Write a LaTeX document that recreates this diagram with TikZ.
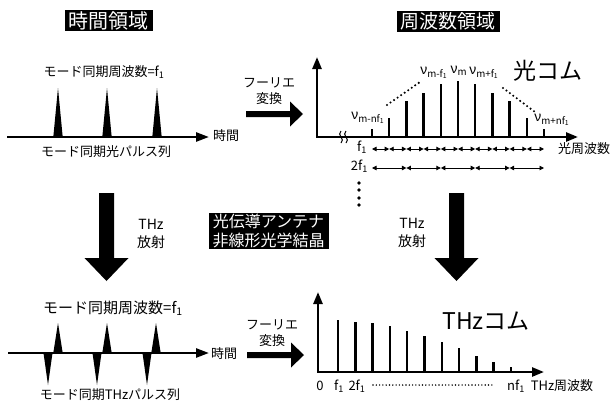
\documentclass[tikz,border=0pt]{standalone}
\usepackage{fontspec}
\setmainfont{Noto Sans CJK JP}
\newfontfamily\grk{Liberation Sans}
\usetikzlibrary{arrows.meta}

\newcommand{\fone}{f\textsubscript{1}}
\newcommand{\nusub}[1]{{\grk ν}\textsubscript{#1}}

\begin{document}
\begin{tikzpicture}[x=1pt, y=-1pt,
        lab/.style={inner sep=0pt, align=center, font=\fontsize{13}{16}\selectfont},
        nulab/.style={inner sep=0pt, font=\fontsize{14}{16}\selectfont},
        ttl/.style={fill=black, text=white, inner xsep=4pt, inner ysep=1.5pt, align=center},
        axis/.style={line width=2.5pt, {Triangle[length=12pt,width=9pt]}-{Triangle[length=12pt,width=9pt]}},
        taxis/.style={line width=2.5pt, -{Triangle[length=13pt,width=9pt]}},
        comb/.style={line width=2.5pt},
        spacing/.style={line width=0.9pt, {Triangle[length=4.5pt,width=4.5pt]}-{Triangle[length=4.5pt,width=4.5pt]}},
        dots/.style={line width=2.3pt, line cap=round, dash pattern=on 0pt off 4.3pt},
        fwd/.pic={\fill (0,-3) -- (44,-3) -- (44,-12.5) -- (57,0) -- (44,12.5) -- (44,3) -- (0,3) -- cycle;},
        down/.pic={\fill (-7.5,0) -- (7.5,0) -- (7.5,65) -- (22,65) -- (0,88) -- (-22,65) -- (-7.5,65) -- cycle;}]
        \useasboundingbox (0,0) rectangle (610,407);

        \node[ttl, font=\fontsize{20}{22}\selectfont] (ttime) at (108.5,20.5) {時間領域};
        \node[lab] (rep1) at (104,72) {モード同期周波数=\fone};
        \coordinate (t1s) at (7,137);
        \coordinate (t1e) at (209,137);
        \draw[taxis] (t1s) -- (t1e);
        \foreach \x in {58,107,157}
                \fill (\x-4.7,137) -- (\x,88) -- (\x+4.7,137) -- cycle;
        \node[lab, anchor=west] (time1) at (213,136) {時間};
        \node[lab] (train1) at (106,152) {モード同期光パルス列};
        \node[lab] (ft1) at (269,91) {フーリエ\\変換};
        \pic at (246,114) {fwd};

        \node[ttl, font=\fontsize{19}{21}\selectfont] (tfreq) at (448,21.5) {周波数領域};
        \coordinate (y1) at (317,57);
        \coordinate (o1) at (317,137);
        \coordinate (x1) at (578,137);
        \draw[axis] (y1) -- (o1) -- (x1);
        \draw[line width=1pt] (341,131) .. controls (336,135) and (346,139) .. (341,143);
        \draw[line width=1pt] (346,131) .. controls (341,135) and (351,139) .. (346,143);
        \foreach \h [count=\i from 0] in {129,118,101,93,84,81,84,93,101,118,129}
                \draw[comb] (372+17.2*\i,137) -- (372+17.2*\i,\h);
        \draw[dots] (387,105) -- (420,82);
        \draw[dots] (503,88) -- (535,112);
        \node[nulab] (nulo) at (368,118) {\nusub{m-nf\textsubscript{1}}};
        \node[nulab] (numl) at (434,73) {\nusub{m-f\textsubscript{1}}};
        \node[nulab] (num) at (459,71) {\nusub{m}};
        \node[nulab] (numr) at (484,73) {\nusub{m+f\textsubscript{1}}};
        \node[nulab] (nuhi) at (552,120) {\nusub{m+nf\textsubscript{1}}};
        \node[lab, font=\fontsize{23}{25}\selectfont] (ocomb) at (548,71) {光コム};
        \node[lab, anchor=east] (f1a) at (367,147) {\fone};
        \foreach \i in {0,...,9}
                \draw[spacing] (372+17.2*\i,149) -- (372+17.2*\i+17.2,149);
        \node[lab, anchor=east] (f2a) at (368,166) {2\fone};
        \foreach \i in {0,...,4}
                \draw[spacing] (372+34.4*\i,168) -- (372+34.4*\i+34.4,168);
        \node[lab] (ofreq) at (584,149) {光周波数};
        \foreach \y in {183,190,198,205}
                \fill (359,\y) circle (1.8pt);

        \pic at (106.5,193) {down};
        \node[lab, font=\fontsize{14}{18}\selectfont] (emitl) at (151,234) {THz\\放射};
        \node[ttl, font=\fontsize{16}{19}\selectfont] (crys) at (268.5,231) {光伝導アンテナ\\非線形光学結晶};
        \pic at (456.5,193) {down};
        \node[lab, font=\fontsize{14}{18}\selectfont] (emitr) at (412,233) {THz\\放射};

        \node[lab, font=\fontsize{15}{17}\selectfont] (rep2) at (113,308) {モード同期周波数=\fone};
        \coordinate (t2s) at (8,353);
        \coordinate (t2e) at (209,353);
        \draw[taxis] (t2s) -- (t2e);
        \foreach \x in {58,107,156}
                \fill (\x-4.7,353) -- (\x,323) -- (\x+4.7,353) -- cycle;
        \foreach \x in {48,97,147}
                \fill (\x-4.5,353) -- (\x,385) -- (\x+4.5,353) -- cycle;
        \node[lab, anchor=west] (time2) at (211,354) {時間};
        \node[lab] (train2) at (110,395) {モード同期THzパルス列};
        \node[lab] (ft2) at (272,333) {フーリエ\\変換};
        \pic at (247,355) {fwd};

        \coordinate (y2) at (318,292);
        \coordinate (o2) at (318,372);
        \coordinate (x2) at (544,372);
        \draw[axis] (y2) -- (o2) -- (x2);
        \foreach \h [count=\i from 0] in {320,322,323,326,331,336,342,348,356,362,367}
                \draw[comb] (338+17.3*\i,372) -- (338+17.3*\i,\h);
        \node[lab, font=\fontsize{23}{25}\selectfont] (tcomb) at (486,321) {THzコム};
        \node[lab] (zero) at (320,386) {0};
        \node[lab] (f1b) at (339,386) {\fone};
        \node[lab] (f2b) at (357,386) {2\fone};
        \draw[line width=1.6pt, line cap=round, dash pattern=on 0pt off 3.3pt] (373,385) -- (493,385);
        \node[lab] (nfb) at (516,386) {n\fone};
        \node[lab] (tfreqx) at (562,386) {THz周波数};
\end{tikzpicture}
\end{document}
